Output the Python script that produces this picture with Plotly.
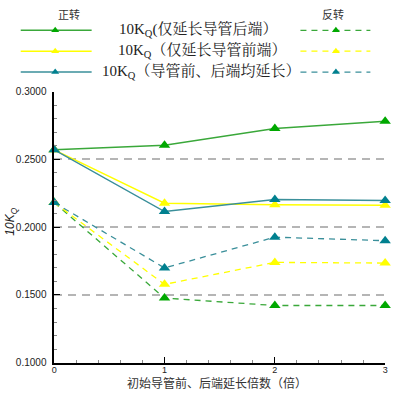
import plotly.graph_objects as go

x = [0, 1, 2, 3]
fwd_rear = [0.2570, 0.2604, 0.2728, 0.2780]
fwd_front = [0.2570, 0.2177, 0.2165, 0.2162]
fwd_both = [0.2570, 0.2115, 0.2203, 0.2196]
rev_rear = [0.2181, 0.1477, 0.1422, 0.1422]
rev_front = [0.2181, 0.1578, 0.1740, 0.1735]
rev_both = [0.2181, 0.1699, 0.1926, 0.1900]

series_names = ["10K<sub>Q</sub>(仅延长导管后端）",
                "10K<sub>Q</sub>（仅延长导管前端）",
                "10K<sub>Q</sub>（导管前、后端均延长）"]
y_ticks = [0.10, 0.15, 0.20, 0.25, 0.30]
x_title = "初始导管前、后端延长倍数（倍）"
y_title = "<i>10K<sub>Q</sub></i>"

GREEN_L, GREEN_M = "#3aa83a", "#00a800"
YELLOW_L, YELLOW_M = "#ffff00", "#ffff00"
TEAL_L, TEAL_M = "#3a8f9a", "#00808f"

W, H = 398, 395
L, R, T, B = 52, 388, 89, 368

fig = go.Figure()

styles = [(GREEN_L, GREEN_M), (YELLOW_L, YELLOW_M), (TEAL_L, TEAL_M)]
fwd = [fwd_rear, fwd_front, fwd_both]
rev = [rev_rear, rev_front, rev_both]

# draw reverse first, then forward
for (lc, mc), ys in zip(styles, rev):
    fig.add_trace(go.Scatter(x=x, y=ys, mode="lines+markers", cliponaxis=False,
                             line=dict(color=lc, width=1.3, dash="6px,5px"),
                             marker=dict(symbol="triangle-up", size=10, color=mc),
                             showlegend=False))
for (lc, mc), ys in zip(styles, fwd):
    fig.add_trace(go.Scatter(x=x, y=ys, mode="lines+markers", cliponaxis=False,
                             line=dict(color=lc, width=1.5),
                             marker=dict(symbol="triangle-up", size=10, color=mc),
                             showlegend=False))

# legend samples on a pixel overlay axis
row_y = [26, 47.5, 69]
for (lc, mc), ry in zip(styles, row_y):
    fig.add_trace(go.Scatter(x=[18, 90], y=[ry, ry], mode="lines", xaxis="x2", yaxis="y2",
                             line=dict(color=lc, width=1.5), showlegend=False, hoverinfo="skip"))
    fig.add_trace(go.Scatter(x=[53], y=[ry], mode="markers", xaxis="x2", yaxis="y2",
                             marker=dict(symbol="triangle-up", size=7, color=mc),
                             showlegend=False, hoverinfo="skip"))
    fig.add_trace(go.Scatter(x=[302, 373], y=[ry, ry], mode="lines", xaxis="x2", yaxis="y2",
                             line=dict(color=lc, width=1.3, dash="6px,5px"), showlegend=False,
                             hoverinfo="skip"))
    fig.add_trace(go.Scatter(x=[338], y=[ry], mode="markers", xaxis="x2", yaxis="y2",
                             marker=dict(symbol="triangle-up", size=7, color=mc),
                             showlegend=False, hoverinfo="skip"))

text_cx = [198, 202, 201]
annots = []
for name, ry, cx in zip(series_names, row_y, text_cx):
    annots.append(dict(x=cx, y=ry, xref="x2", yref="y2", text=name, showarrow=False,
                       font=dict(family="Liberation Serif, Noto Serif CJK SC, Noto Sans CJK SC",
                                 size=15, color="#222"),
                       xanchor="center", yanchor="middle"))
annots.append(dict(x=67, y=9, xref="x2", yref="y2", text="正转", showarrow=False,
                   font=dict(family="Noto Sans CJK SC", size=11, color="#333")))
annots.append(dict(x=335, y=9, xref="x2", yref="y2", text="反转", showarrow=False,
                   font=dict(family="Noto Sans CJK SC", size=11, color="#333")))
annots.append(dict(x=217, y=388, xref="x2", yref="y2", text=x_title, showarrow=False,
                   font=dict(family="Noto Sans CJK SC", size=12, color="#333")))
annots.append(dict(x=8, y=223, xref="x2", yref="y2", text=y_title, showarrow=False,
                   textangle=-90,
                   font=dict(family="Liberation Sans, Arial", size=12, color="#222")))

fig.update_layout(
    width=W, height=H,
    margin=dict(l=0, r=0, t=0, b=0),
    paper_bgcolor="white", plot_bgcolor="rgba(0,0,0,0)",
    xaxis=dict(domain=[L / W, R / W], range=[0, 3], tickmode="array", tickvals=x,
               ticktext=[str(v) for v in x],
               ticks="inside", ticklen=6, tickcolor="black", tickwidth=1,
               minor=dict(dtick=0.2, ticks="inside", ticklen=3, tickcolor="#888"),
               showline=True, linecolor="black", linewidth=1.5, showgrid=False,
               zeroline=False, ticklabelstandoff=-2,
               tickfont=dict(family="Liberation Sans, Arial", size=9, color="#222")),
    yaxis=dict(domain=[(H - B) / H, (H - T) / H], range=[0.10, 0.30], tickmode="array",
               tickvals=y_ticks, ticktext=[f"{v:.4f}" for v in y_ticks],
               ticks="inside", ticklen=6, tickcolor="black", tickwidth=1,
               minor=dict(dtick=0.01, ticks="inside", ticklen=3, tickcolor="#888", showgrid=False),
               showline=True, linecolor="black", linewidth=1.5,
               showgrid=True, gridcolor="#b5b5b5", griddash="8px,6px", gridwidth=1.5,
               zeroline=False, ticklabelstandoff=4,
               tickfont=dict(family="Liberation Sans, Arial", size=10, color="#222")),
    xaxis2=dict(domain=[0, 1], range=[0, W], visible=False, anchor="y2"),
    yaxis2=dict(domain=[0, 1], range=[H, 0], visible=False, anchor="x2"),
    annotations=annots,
)
fig.write_html("out.html", config={"displayModeBar": False},
               post_script="document.body.style.margin='0';document.body.style.padding='0';")
